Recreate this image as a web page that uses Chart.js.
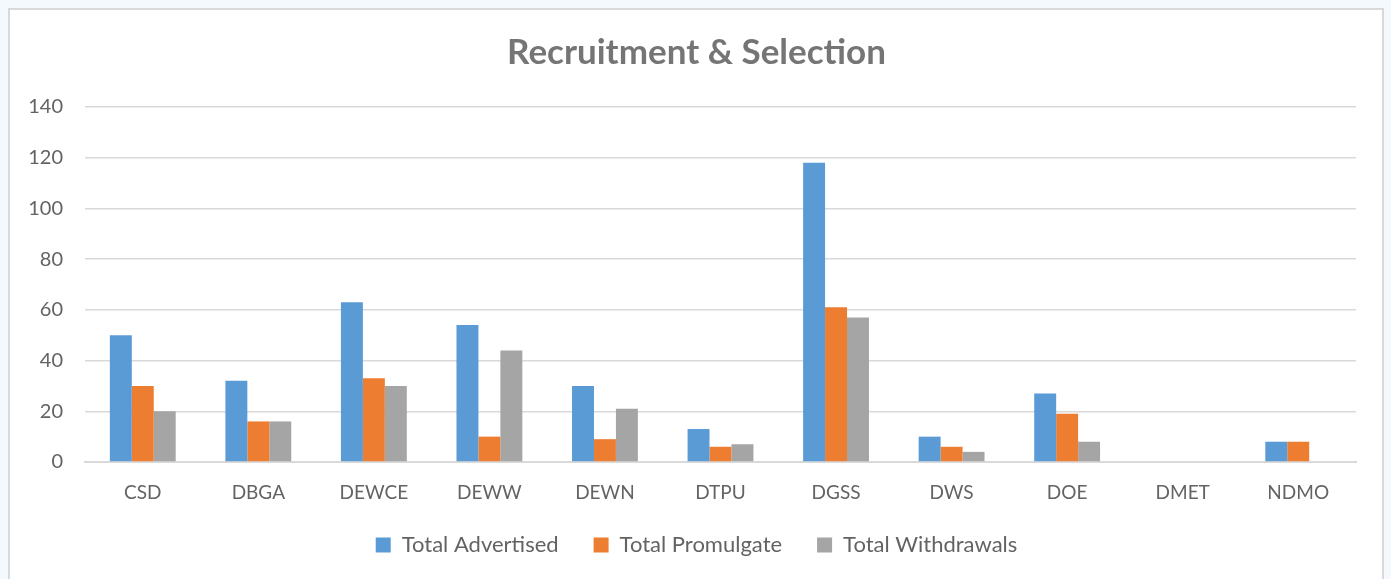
<!DOCTYPE html>
<html>
<head>
<meta charset="utf-8">
<script src="https://cdn.jsdelivr.net/npm/chart.js@4.4.1/dist/chart.umd.min.js"></script>
<style>
  html, body { margin: 0; padding: 0; background: #f3f9fd; width: 1391px; height: 579px; overflow: hidden; }
  #frame { position: absolute; left: 8px; top: 8px; width: 1376px; height: 580px; background: #ffffff; border: 2px solid #d9d9d9; box-sizing: border-box; }
  #wrap { position: absolute; left: 0; top: 0; width: 1391px; height: 579px; }
</style>
</head>
<body>
<div id="frame"></div>
<div id="wrap"><canvas id="c" width="1391" height="579"></canvas></div>
<script>
const categories = ["CSD", "DBGA", "DEWCE", "DEWW", "DEWN", "DTPU", "DGSS", "DWS", "DOE", "DMET", "NDMO"];
const totalAdvertised = [50, 32, 63, 54, 30, 13, 118, 10, 27, 0, 8];
const totalPromulgate = [30, 16, 33, 10, 9, 6, 61, 6, 19, 0, 8];
const totalWithdrawals = [20, 16, 30, 44, 21, 7, 57, 4, 8, 0, 0];
const yTicks = [0, 20, 40, 60, 80, 100, 120, 140];
const chartTitle = "Recruitment & Selection";

const FONT = "Lato, 'Open Sans', sans-serif";

new Chart(document.getElementById('c'), {
  type: 'bar',
  data: {
    labels: categories,
    datasets: [
      { label: 'Total Advertised', data: totalAdvertised, backgroundColor: '#5b9bd5' },
      { label: 'Total Promulgate', data: totalPromulgate, backgroundColor: '#ed7d31' },
      { label: 'Total Withdrawals', data: totalWithdrawals, backgroundColor: '#a5a5a5' }
    ]
  },
  options: {
    responsive: false,
    animation: false,
    layout: { padding: { left: 10, right: 8, top: 0, bottom: 13 } },
    datasets: { bar: { barPercentage: 1.0, categoryPercentage: 0.57 } },
    plugins: {
      title: {
        display: true,
        text: chartTitle,
        color: '#757575',
        font: { family: FONT, size: 35, weight: 'bold' },
        padding: { top: 32, bottom: 33 }
      },
      legend: {
        position: 'bottom',
        labels: {
          color: '#636363',
          font: { family: FONT, size: 22 },
          boxWidth: 15, boxHeight: 15,
          padding: 35
        }
      },
      tooltip: { enabled: false }
    },
    scales: {
      x: {
        grid: { display: false },
        border: { display: true, color: '#d9d9d9', width: 2 },
        afterFit: (s) => { s.height = 37; },
        ticks: { color: '#636363', font: { family: FONT, size: 19 }, padding: 11 }
      },
      y: {
        min: 0, max: 140,
        afterBuildTicks: (s) => { s.ticks = yTicks.map(v => ({ value: v })); },
        afterFit: (s) => { s.width = 75; },
        grid: { color: '#d9d9d9', lineWidth: 1.5, drawTicks: false },
        border: { display: false },
        ticks: { color: '#636363', font: { family: FONT, size: 20 }, padding: 22 }
      },
      yr: {
        type: 'linear',
        position: 'right',
        display: true,
        min: 0, max: 140,
        afterFit: (s) => { s.width = 27; },
        grid: { display: false, drawTicks: false },
        border: { display: false },
        ticks: { display: false }
      }
    }
  }
});
</script>
</body>
</html>
